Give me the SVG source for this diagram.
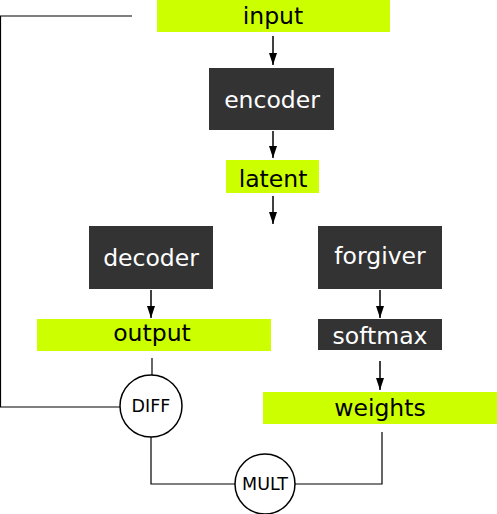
<svg xmlns="http://www.w3.org/2000/svg" width="497" height="514" viewBox="0 0 497 514">
<defs>
<marker id="ah" viewBox="0 0 12 8" refX="12" refY="4" markerWidth="12" markerHeight="8" markerUnits="userSpaceOnUse" orient="auto">
<path d="M0,0 L12,4 L0,8 Z" fill="#000"/>
</marker>
<style>
.lime{fill:#ccff00}
.dark{fill:#333333}
.t{font-family:"DejaVu Sans",Verdana,sans-serif;font-size:23.5px;text-anchor:middle;dominant-baseline:central}
.tb{fill:#000}
.tw{fill:#fff}
.c{fill:#fff;stroke:#000;stroke-width:1.5}
.ct{font-family:"DejaVu Sans",Verdana,sans-serif;font-size:17.5px;text-anchor:middle;dominant-baseline:central;fill:#000}
.ln{fill:none;stroke:#000;stroke-width:1.2}
.ar{fill:none;stroke:#000;stroke-width:1.5;marker-end:url(#ah)}
</style>
</defs>
<rect width="497" height="514" fill="#fff"/>
<g id="connectors">
<path class="ln" d="M132,16 H0.5 V407 H120"/>
<line class="ar" x1="273" y1="36" x2="273" y2="65"/>
<line class="ar" x1="273" y1="131" x2="273" y2="158"/>
<line class="ar" x1="273" y1="196" x2="273" y2="224"/>
<line class="ar" x1="151" y1="290" x2="151" y2="318"/>
<line class="ar" x1="380" y1="290" x2="380" y2="318"/>
<line class="ar" x1="380" y1="361" x2="380" y2="390"/>
<line class="ln" x1="152" y1="358" x2="152" y2="375"/>
<path class="ln" d="M151,437 V484 H235"/>
<path class="ln" d="M295,484 H382 V432"/>
</g>
<g id="input"><rect class="lime" x="157" y="0" width="233" height="32"/><text class="t tb" x="273" y="16">input</text></g>
<g id="encoder"><rect class="dark" x="209" y="68" width="125" height="62"/><text class="t tw" x="272" y="100">encoder</text></g>
<g id="latent"><rect class="lime" x="226" y="160" width="93" height="33"/><text class="t tb" x="273" y="179">latent</text></g>
<g id="decoder"><rect class="dark" x="89" y="226" width="124" height="63"/><text class="t tw" x="151" y="258">decoder</text></g>
<g id="forgiver"><rect class="dark" x="318" y="226" width="124" height="63"/><text class="t tw" x="380" y="256">forgiver</text></g>
<g id="output"><rect class="lime" x="37" y="319" width="234" height="32"/><text class="t tb" x="152" y="333">output</text></g>
<g id="softmax"><rect class="dark" x="318" y="319" width="124" height="31"/><text class="t tw" x="380" y="336">softmax</text></g>
<g id="weights"><rect class="lime" x="263" y="392" width="234" height="32"/><text class="t tb" x="380" y="408">weights</text></g>
<g id="diff"><circle class="c" cx="151" cy="406" r="31"/><text class="ct" x="151" y="406">DIFF</text></g>
<g id="mult"><circle class="c" cx="265" cy="484" r="30"/><text class="ct" x="265" y="484">MULT</text></g>
</svg>
